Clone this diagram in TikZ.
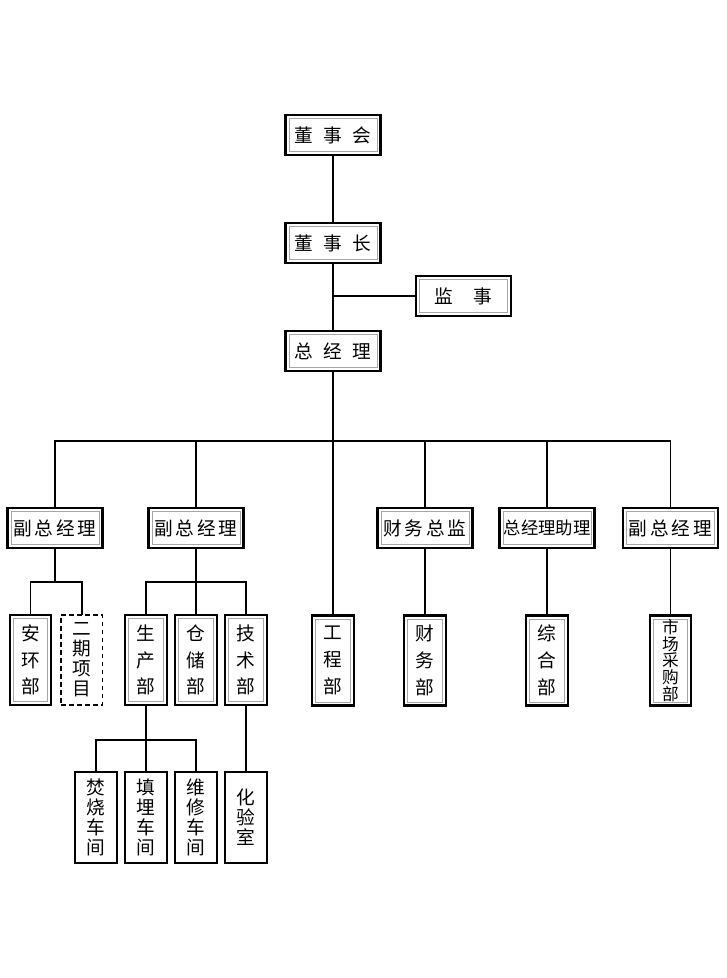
\documentclass[tikz,border=0pt]{standalone}
\usepackage{fontspec}
\newfontfamily\cjk{Noto Sans CJK SC}
\usetikzlibrary{positioning,calc}
\tikzset{
  unitbox/.style={draw, line width=1.6pt, fill=white, align=center, inner sep=0pt, outer sep=0pt,
    font=\cjk\fontsize{14}{16}\selectfont,
    path picture={\draw[gray!70, line width=0.7pt]
      ([shift={(2.6pt,2.6pt)}]path picture bounding box.south west) rectangle
      ([shift={(-2.6pt,-2.6pt)}]path picture bounding box.north east);}},
  posbox/.style={unitbox, minimum width=71.25pt, minimum height=30pt},
  deptbox/.style={unitbox, minimum width=31pt, minimum height=67.5pt, font=\cjk\fontsize{14}{20}\selectfont},
  planbox/.style={draw, line width=1.2pt, dash pattern=on 3.5pt off 2.5pt, fill=white, align=center,
    inner sep=0pt, outer sep=0pt, minimum width=31pt, minimum height=67.5pt, font=\cjk\fontsize{14}{15}\selectfont},
  shopbox/.style={draw, line width=1.4pt, fill=white, align=center, inner sep=0pt, outer sep=0pt,
    minimum width=31.5pt, minimum height=68pt, font=\cjk\fontsize{14}{15}\selectfont},
  link/.style={line width=1.2pt}
}
\begin{document}
\begin{tikzpicture}[x=0.75pt, y=-0.75pt]
  \useasboundingbox (0,0) rectangle (727,978);

  % top of the chart
  \node[posbox] (dsh) at (333,135) {董\hspace{0.55em}事\hspace{0.55em}会};
  \node[posbox, below=51pt of dsh] (dsz) {董\hspace{0.55em}事\hspace{0.55em}长};
  \node[posbox, below=51pt of dsz] (zjl) {总\hspace{0.55em}经\hspace{0.55em}理};
  \node[posbox] (jsh) at (463.5,296) {监\hspace{1.1em}事};

  \draw[link] (dsh.south) -- (dsz.north);
  \draw[link] (dsz.south) -- (zjl.north);
  \draw[link] (jsh.west) -- (jsh.west -| zjl.south);

  % second level
  \node[posbox] (fz1) at (55,528) {副\hspace{0.15em}总\hspace{0.15em}经\hspace{0.15em}理};
  \node[posbox] (fz2) at (196,528) {副\hspace{0.15em}总\hspace{0.15em}经\hspace{0.15em}理};
  \node[posbox] (cw) at (425,528) {财\hspace{0.15em}务\hspace{0.15em}总\hspace{0.15em}监};
  \node[posbox, font=\cjk\fontsize{13}{15}\selectfont] (zl) at (547,528) {总经理助理};
  \node[posbox] (fz3) at (670.5,528) {副\hspace{0.15em}总\hspace{0.15em}经\hspace{0.15em}理};

  \coordinate (bus) at (333,441);
  \draw[link] (fz1.north) |- (bus) -| (fz3.north);
  \foreach \n in {fz2,cw,zl}
    \draw[link] (\n.north) -- (\n.north |- bus);

  % departments
  \node[deptbox] (ah) at (30.5,660) {安\\环\\部};
  \node[planbox, right=7.5pt of ah] (eq) {二\\期\\项\\目};
  \node[deptbox] (sc) at (146,660) {生\\产\\部};
  \node[deptbox, right=6.5pt of sc] (cc) {仓\\储\\部};
  \node[deptbox, right=6.5pt of cc] (js) {技\\术\\部};
  \node[deptbox] (gcb) at (333,660.5) {工\\程\\部};
  \node[deptbox] (cwb) at (425,660.5) {财\\务\\部};
  \node[deptbox] (zh) at (547,660.5) {综\\合\\部};
  \node[deptbox, font=\cjk\fontsize{12.5}{12.6}\selectfont] (sccg) at (670.5,660.5) {市\\场\\采\\购\\部};

  \draw[link] (zjl.south) -- (gcb.north);
  \coordinate (b1) at (55,582);
  \draw[link] (fz1.south) -- (b1);
  \draw[link] (ah.north) |- (b1) -| (eq.north);
  \coordinate (b2) at (196,582);
  \draw[link] (fz2.south) -- (cc.north);
  \draw[link] (sc.north) |- (b2) -| (js.north);
  \draw[link] (cw.south) -- (cwb.north);
  \draw[link] (zl.south) -- (zh.north);
  \draw[link] (fz3.south) -- (sccg.north);

  % workshops
  \node[shopbox] (fs) at (96,817.5) {焚\\烧\\车\\间};
  \node[shopbox, right=6pt of fs] (tm) {填\\埋\\车\\间};
  \node[shopbox, right=6pt of tm] (wx) {维\\修\\车\\间};
  \node[shopbox, right=6pt of wx] (hy) {化\\验\\室};

  \coordinate (b3) at (146,740);
  \draw[link] (sc.south) -- (tm.north);
  \draw[link] (fs.north) |- (b3) -| (wx.north);
  \draw[link] (js.south) -- (hy.north);
\end{tikzpicture}
\end{document}
